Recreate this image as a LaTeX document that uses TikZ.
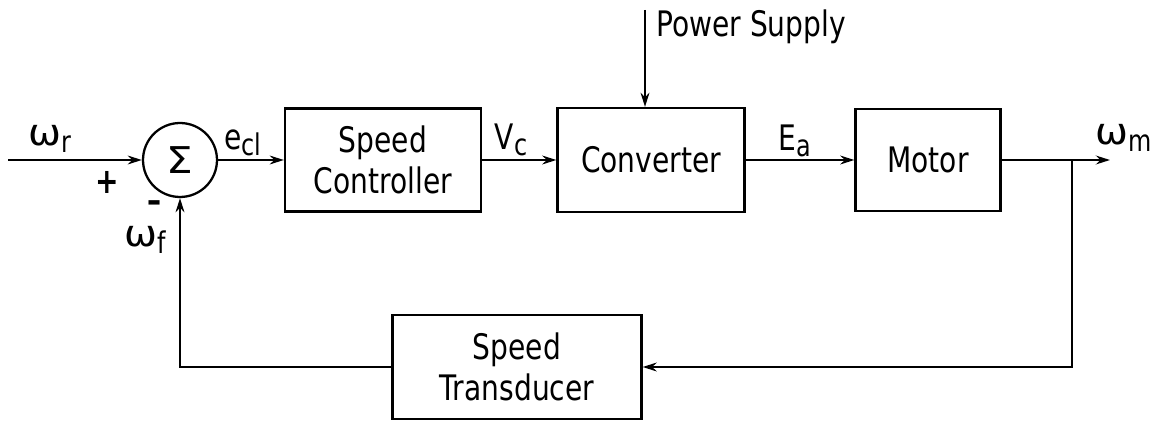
\documentclass[tikz,border=0pt]{standalone}
\usepackage{fontspec}
\setmainfont[FakeStretch=0.8]{DejaVu Sans}
\usetikzlibrary{arrows.meta}
\newcommand\lsub[1]{\raisebox{-0.35ex}{\fontsize{17}{17}\selectfont#1}}
\newcommand\om{\scalebox{1.4}[1.05]{ω}}

\begin{document}
\begin{tikzpicture}[x=0.02cm,y=-0.02cm,line width=1.3pt,
  every node/.style={font=\fontsize{20}{23}\selectfont},
  block/.style={draw,line width=1.3pt,align=center,inner sep=0pt},
  lbl/.style={inner sep=0pt},
  sig/.style={-{Stealth[length=8pt,width=5pt]}}]
  \useasboundingbox (0,0) rectangle (1160,422);
  \coordinate (in) at (8,160);
  \coordinate (ps) at (645,10);
  \coordinate (out) at (1110,160);
  \coordinate (br) at (1072,160);
  \node[draw,circle,minimum size=1.48cm,inner sep=0pt] (sum) at (180,160) {\scalebox{1.5}[1.05]{Σ}};
  \node[block,minimum width=3.92cm,minimum height=2.06cm] (ctrl) at (383,160) {Speed\\Controller};
  \node[block,minimum width=3.74cm,minimum height=2.08cm] (conv) at (651,160) {Converter};
  \node[block,minimum width=2.9cm,minimum height=2.04cm] (motor) at (928,160) {Motor};
  \node[block,minimum width=4.98cm,minimum height=2.08cm] (trans) at (517,367) {Speed\\Transducer};
  \draw[sig] (in) -- (sum);
  \draw[sig] (sum) -- (ctrl);
  \draw[sig] (ctrl) -- (conv);
  \draw[sig] (conv) -- (motor);
  \draw[sig] (motor) -- (out);
  \draw[sig] (ps) -- (ps |- conv.north);
  \draw[sig] (br) |- (trans.east);
  \draw[sig] (trans.west) -| (sum.south);
  \node[lbl] (wr) at (50,139) {\om\lsub{r}};
  \node[lbl] (plus) at (107,182) {\textbf{+}};
  \node[lbl] (minus) at (155,207) {\textbf{–}};
  \node[lbl] (wf) at (145,240) {\om\lsub{f}};
  \node[lbl] (ecl) at (243,143) {e\lsub{cl}};
  \node[lbl] (vc) at (511,140) {V\lsub{c}};
  \node[lbl] (ea) at (795,141) {E\lsub{a}};
  \node[lbl] (wm) at (1124,138) {\om\lsub{m}};
  \node[lbl,anchor=base west] (pslbl) at (655,37) {Power Supply};
\end{tikzpicture}
\end{document}
